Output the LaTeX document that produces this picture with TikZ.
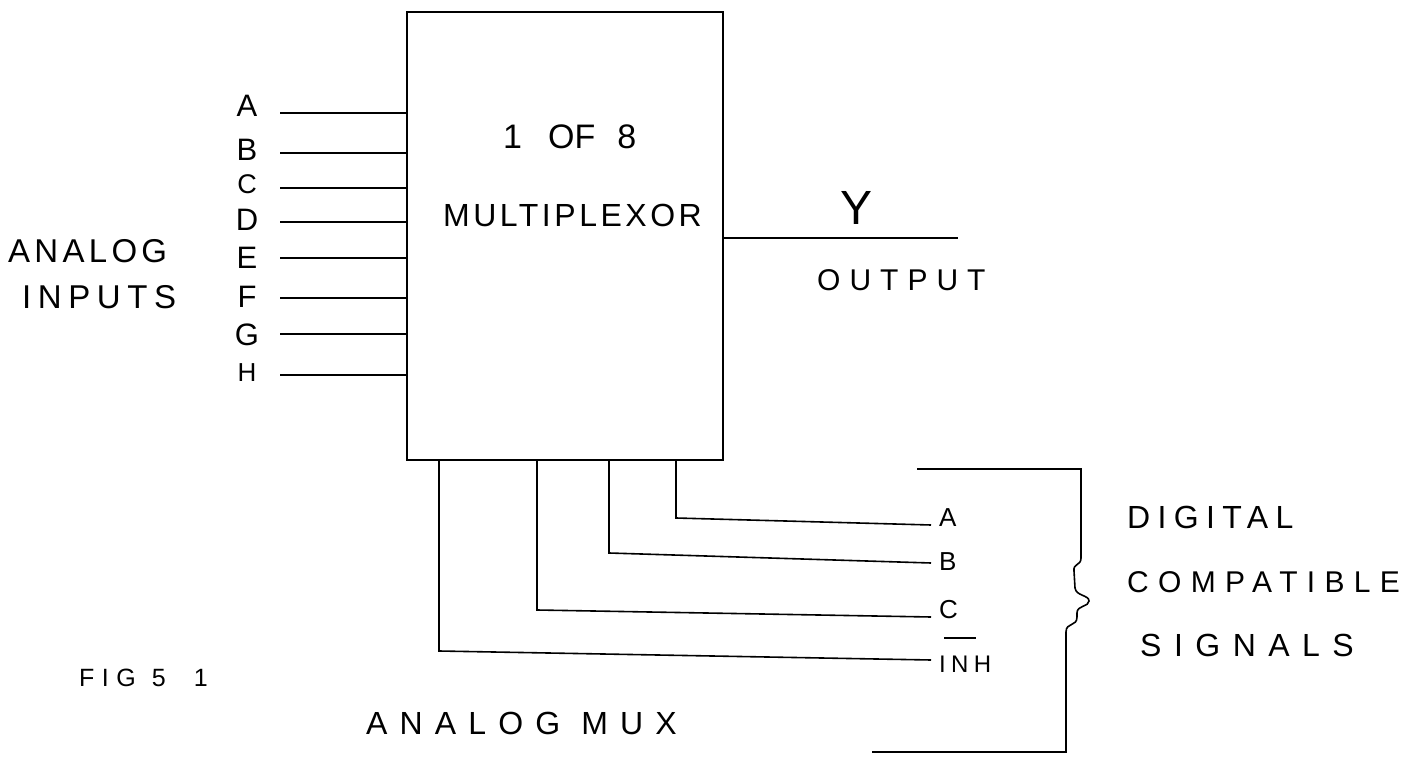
\documentclass[tikz,border=0pt]{standalone}
\usepackage{fontspec}
\setmainfont{Liberation Sans}
\newcommand{\tx}[2]{\fontsize{#1}{#1}\selectfont\addfontfeature{LetterSpace=#2}}
\begin{document}
\begin{tikzpicture}[x=1pt,y=-1pt,
  wire/.style={line width=1.6pt},
  lbl/.style={inner sep=0pt},
  sigl/.style={lbl, anchor=south west, font=\tx{26}{0}}]
\useasboundingbox (0,0) rectangle (1422,759);
% box
\node[draw, line width=1.6pt, minimum width=316pt, minimum height=448pt, inner sep=0pt] (mux) at (565,236) {};
\node[lbl, font=\tx{34}{0}, anchor=west] (t1) at (503,137) {1\hspace{26pt}OF\hspace{22pt}8};
\node[lbl, font=\tx{32}{11}, anchor=west] (t2) at (443,215) {MULTIPLEXOR};
% inputs
\foreach \n/\ly/\yy/\fs in {A/106/113/31,B/150/153/31,C/184/188/27,D/220/222/31,E/258/258/31,F/297/298/31,G/335/334/31,H/373/375/26}{
  \node[lbl, font=\tx{\fs}{0}] (l\n) at (247,\ly) {\n};
  \coordinate (s\n) at (280,\yy);
  \draw[wire] (s\n) -- (s\n -| mux.west);
}
\node[lbl, font=\tx{33}{13}, anchor=west] (an) at (8,251) {ANALOG};
\node[lbl, font=\tx{33}{20}, anchor=west] (inp) at (22,297) {INPUTS};
% output
\coordinate (yo) at (958,238);
\draw[wire] (mux.east |- yo) -- (yo);
\node[lbl, font=\tx{48}{0}] (ylab) at (856,208) {Y};
\node[lbl, font=\tx{30}{30}, anchor=west] (outl) at (817,280) {OUTPUT};
% control lines
\foreach \n/\xx/\ya/\yb in {a/676/518/525,b/609/553/563,c/537/610/617,i/439/651/660}{
  \coordinate (c\n) at (\xx,\ya);
  \coordinate (e\n) at (931,\yb);
  \draw[wire] (mux.south -| c\n) -- (c\n) -- (e\n);
}
\node[sigl] (la) at (939,527) {A};
\node[sigl] (lb) at (939,571) {B};
\node[sigl] (lc) at (939,619) {C};
\node[sigl, font=\tx{24}{22}] (li) at (939,673) {INH};
\draw[line width=1.6pt] (944,638) -- (976,638);
% bracket
\coordinate (bt1) at (917,469);
\coordinate (bt2) at (1081,469);
\coordinate (bb2) at (1066,752);
\coordinate (bb1) at (872,752);
\draw[wire] (bt1) -- (bt2) -- (1081,558)
  .. controls (1081,566) and (1073,563) .. (1074,571)
  -- (1075,588)
  .. controls (1076,596) and (1089,595) .. (1089,601)
  .. controls (1089,607) and (1077,605) .. (1077,613)
  -- (1077,617)
  .. controls (1077,627) and (1066,622) .. (1066,632)
  -- (bb2) -- (bb1);
\node[lbl, font=\tx{32}{23}, anchor=west] (dg) at (1127,517) {DIGITAL};
\node[lbl, font=\tx{30}{31}, anchor=west] (cp) at (1127,582) {COMPATIBLE};
\node[lbl, font=\tx{32}{39}, anchor=west] (sg) at (1140,645) {SIGNALS};
% captions
\node[lbl, font=\tx{25}{30}, anchor=west] (fig) at (79,678) {FIG\hspace{16pt}5\hspace{28pt}1};
\node[lbl, font=\tx{32}{38}, anchor=west] (am) at (366,723) {ANALOG MUX};
\end{tikzpicture}
\end{document}
